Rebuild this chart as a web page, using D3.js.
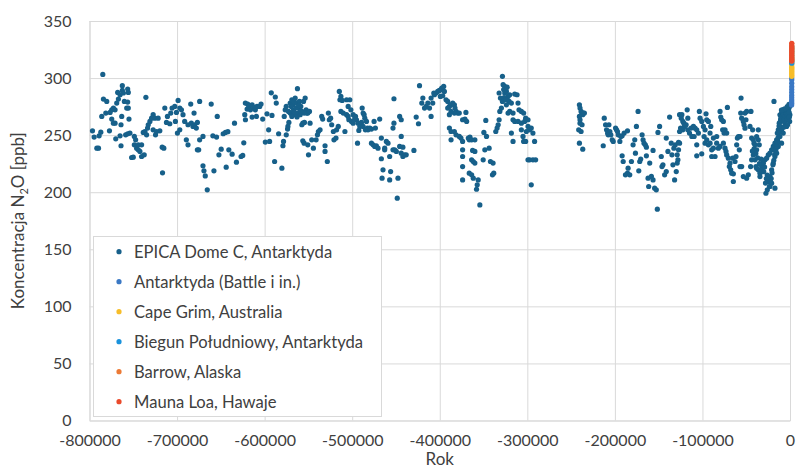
<!DOCTYPE html>
<html><head><meta charset="utf-8">
<script src="https://cdn.jsdelivr.net/npm/d3@7"></script>
<style>
html,body{margin:0;padding:0;background:#fff;}
svg{display:block;font-family:Lato,"Open Sans",sans-serif;}
</style></head>
<body><svg id="chart" width="797" height="470"></svg>
<script>
// ---- data ----
const xTicks = [-800000,-700000,-600000,-500000,-400000,-300000,-200000,-100000,0];
const yTicks = [0,50,100,150,200,250,300,350];
const seriesNames = ["EPICA Dome C, Antarktyda","Antarktyda (Battle i in.)","Cape Grim, Australia","Biegun Południowy, Antarktyda","Barrow, Alaska","Mauna Loa, Hawaje"];
const seriesColors = ["#17608a","#3a78c4","#f7bd2a","#1a92dc","#ec7a35","#ea4a2b"];

// EPICA Dome C: [year, N2O ppb]
const epica = [
[-784800,303.2],[-796600,253.8],[-794700,248.3],[-791600,238.6],[-789700,238.6],[-789000,249.4],[-787100,252.6],[-777200,253.8],[-784100,281.6],[-780300,279.5],[-786000,266.4],[-781400,269.3],[-776500,269.9],[-774600,272.2],[-772700,273.7],[-770800,272.2],[-768900,278.1],[-767000,281.6],[-767800,287.4],[-765100,285.4],[-762500,293.3],[-762500,289.2],[-761300,286.9],[-756400,290.4],[-755700,287.4],[-760200,279.5],[-756400,279],[-757500,273.7],[-755700,273.7],[-754900,264.1],[-763200,266.4],[-764000,259.1],[-770800,260.5],[-772700,260.5],[-774600,264.1],[-770000,246.8],[-765100,249.4],[-764000,240.7],[-758700,250.3],[-756400,251.2],[-753800,251.8],[-748800,248.9],[-747300,245.9],[-748800,241.5],[-746200,238.6],[-744300,237.1],[-742400,235.7],[-744300,241.5],[-740500,241.5],[-751900,230.4],[-750000,230.7],[-740500,231.3],[-737500,232.8],[-738600,252.4],[-735600,283.1],[-736700,253.2],[-734800,250.3],[-733700,256.2],[-732900,259.1],[-731000,262],[-729100,264.9],[-727300,267.9],[-725400,264.9],[-727300,254.7],[-724600,250.3],[-723500,253.2],[-721600,264.9],[-719700,253.8],[-717000,239.5],[-715100,238.6],[-716600,217],[-714000,273.7],[-711000,266.4],[-712100,261.1],[-708300,260],[-707200,269.3],[-705700,273.7],[-702600,275.2],[-700700,269.9],[-698800,280.4],[-696900,273.7],[-695000,272.2],[-693200,267.9],[-691300,262],[-696900,254.7],[-699600,251.8],[-701900,262],[-689400,245.9],[-687500,241.5],[-687500,259.1],[-683700,260.5],[-681800,257.6],[-684400,277.2],[-680600,269.3],[-679900,259.1],[-678000,256.2],[-674200,279.5],[-676800,261.1],[-674200,245.9],[-670400,248.9],[-676800,237.1],[-675300,237.1],[-670400,223.1],[-669300,218.7],[-667800,214.3],[-665500,202.1],[-661000,277.2],[-659100,249.4],[-657900,218.7],
[-654100,266.4],[-654900,248.3],[-652200,232.8],[-649600,237.7],[-647300,251.2],[-644700,252.4],[-642000,253],[-643900,221.9],[-640900,237.1],[-637100,233.3],[-634400,260.5],[-632200,226.3],[-626900,231.3],[-625000,232.2],[-623800,243.3],[-622000,278.1],[-619300,277.2],[-620000,272.8],[-618100,275.2],[-616200,272.2],[-614300,276.6],[-612500,274.3],[-610600,272.2],[-608700,275.2],[-605600,275.2],[-604100,277.2],[-614300,265.8],[-609400,266.4],[-622700,267.9],[-621900,263.5],[-602200,264.1],[-597300,268.7],[-591600,267.3],[-599200,243.9],[-594300,244.5],[-595400,254.7],[-592400,287.1],[-587800,283.4],[-586700,278.1],[-588600,226.9],[-580300,221.1],[-584000,251.2],[-579100,240.7],[-578400,244.5],[-575300,250.3],[-573800,255.3],[-573400,257.6],[-572300,261.1],[-577600,266.4],
[-576500,272.2],[-575300,275.2],[-570800,278.1],[-568900,281],[-567800,276.6],[-566300,279.5],[-565100,282.5],[-563200,278.1],[-562500,290.7],[-561300,273.7],[-560200,279.5],[-558700,275.2],[-557500,270.8],[-555600,279.5],[-553700,282.5],[-552600,272.2],[-551800,269.3],[-550700,269.3],[-548800,270.8],[-570800,269.3],[-572700,270.8],[-568900,267.9],[-565100,267.9],[-562500,269.3],[-559400,267.9],[-554900,269.3],[-548100,260.5],[-557500,259.1],[-556400,260.5],[-554500,261.1],[-568900,266.4],[-567000,272],[-564000,274],[-561000,276],[-559000,271],[-566000,270],[-563000,266],[-569500,275],
[-556400,245.1],[-554900,243],[-550700,241.5],[-549900,232.8],[-544300,238.6],[-546200,245.9],[-541200,245.9],[-539700,250.3],[-538600,253.2],[-536700,254.7],[-534800,266.4],[-533700,264.1],[-531000,240.7],[-531000,235.7],[-528400,226.9],[-527200,269.3],[-526100,263.5],[-524600,264.9],[-523400,259.1],[-521500,253.2],[-520800,245.9],[-518500,247.4],[-517800,254.7],[-515900,257.6],[-514700,288.3],
[-512900,283.9],[-514000,281],[-511400,280.4],[-512900,270.8],[-510200,269.3],[-506400,267.9],[-504600,266.4],[-503800,263.5],[-500800,262],[-498900,260.5],[-497000,264.9],[-495100,263.5],[-493200,260.5],[-491300,257.6],[-488600,273.7],[-487500,269.3],[-486400,267.9],[-485600,264.9],[-483700,262],[-482600,256.2],[-481900,254.7],[-479900,256.2],[-478000,255.3],[-475000,262],[-473500,256.2],[-468600,264.1],[-506400,281],[-504600,275.2],[-502700,281],[-501500,272.2],[-498900,267.9],[-496200,266.4],[-508300,253.2],[-493900,243],[-492400,254.1],[-489400,261.1],[-487500,257.6],[-484900,254.7],
[-478000,243],[-476100,241.5],[-474200,240.1],[-472400,240.7],[-470500,238.6],[-466700,247.4],[-466700,229.3],[-462900,238.6],[-461000,244.5],[-462900,237.1],[-459100,243],[-457200,231.3],[-453400,237.1],[-451500,237.1],[-449600,235.7],[-445800,240.1],[-444000,248.9],[-442100,239.5],[-444000,234.2],[-442100,231.3],[-440200,232.8],[-438300,232.8],[-429500,236.6],[-464800,219.6],[-456100,218.1],[-465900,212.3],[-457200,210.8],[-447700,212.3],[-448500,194.8],[-452300,281.9],[-452300,260.5],[-453400,256.2],[-445800,266.4],[-444000,263.5],[-426900,265.8],[-424300,260],
[-423100,293.3],[-420500,278.1],[-419300,282.5],[-417400,273.7],[-415500,275.2],[-413600,278.1],[-411700,273.7],[-409900,266.4],[-408000,278.1],[-409900,282.5],[-406800,286.9],[-406100,285.4],[-404200,286.9],[-402300,288.3],[-400400,289.2],[-398500,289.8],[-397700,291.2],[-395500,292.7],[-394700,288.3],[-399300,283.9],[-396600,284.5],[-392800,281],[-390900,279.5],[-389000,275.2],[-387100,276.6],[-385200,278.1],[-383300,276.6],[-382600,273.7],[-381400,270.8],[-383300,269.3],[-390900,273.7],[-389000,267.9],[-387100,270.8],[-379500,269.3],[-377700,269.3],[-373900,263.5],[-389000,256.2],[-387100,253.2],[-383300,253.2],[-387100,245.9],[-381400,250.3],[-377700,248.9],[-375800,247.4],[-373900,244.5],[-373900,237.1],[-373900,231.3],[-373900,222.5],[-373900,210.8],
[-370100,269.9],[-371200,264.1],[-369300,262],[-367400,247.4],[-365500,248.3],[-366300,245.9],[-363600,245.9],[-359900,245.9],[-362500,236.6],[-359900,235.7],[-363600,228.4],[-361700,226.9],[-359900,225.5],[-366300,216.7],[-363600,215.2],[-361700,212.3],[-356100,210.8],[-357200,206.5],[-358000,202.6],[-354200,188.9],[-350400,228.4],[-348500,237.1],[-346600,248.9],[-349600,252.4],[-347400,262.9],[-343600,238.6],[-342100,226.9],[-339100,225.5],[-339800,215.2],[-338300,216.7],[-336000,253.2],[-334500,256.2],[-333300,259.1],[-332200,263.5],[-331400,270.8],[-329600,273.7],[-332200,286.9],[-330700,282.5],[-328400,279.5],[-327600,294.2],[-325800,292.7],[-328400,301.5],[-325800,286.9],[-323900,288.3],[-322000,283.9],[-320100,285.4],[-320800,279.5],[-323900,276.6],[-318200,278.1],[-322000,269.3],[-320100,270.8],[-316300,269.3],[-314400,286],[-311700,285.4],[-310600,278.1],[-309500,272.2],[-306800,270.8],[-316300,263.5],[-314400,262],[-310600,262],[-306800,260.5],[-304200,269.3],[-303000,262],[-301900,264.9],[-299200,263.5],[-306800,254.7],[-304900,248.9],[-301900,244.5],[-301100,253.2],[-299200,257.6],[-297400,254.7],[-295500,256.2],[-293600,251.8],[-291700,244.5],[-304200,244.5],[-318200,251.8],[-316300,244.5],[-299200,228.4],[-297400,228.4],[-293600,228.4],[-290500,228.4],[-295500,206.5],[-327000,290],[-326500,283],[-324500,281],[-323000,292],
[-240500,276.6],[-239800,273.7],[-238600,270.8],[-237500,269.3],[-236700,267.9],[-236000,269.3],[-234800,269.3],[-240500,266.4],[-239800,260.5],[-241300,254.7],[-238600,253.2],[-240500,243],[-236700,237.7],[-239800,263.5],[-237500,259.1],
[-213300,240.7],[-212100,264.9],[-210600,259.1],[-209500,254.7],[-208300,251.8],[-206800,259.1],[-205700,253.2],[-207600,250.3],[-204600,250.3],[-201900,244.5],[-203000,245.9],[-199200,256.2],[-198100,254.7],[-197000,253.2],[-196200,250.3],[-194300,244.5],[-193200,248.9],[-191700,249.4],[-189400,251.8],[-185600,253.8],[-179200,241.5],[-177300,245.9],[-175400,257.6],[-173500,270.8],[-168900,250.3],[-167800,245.9],[-166700,243],[-165200,241.5],[-164000,239.5],[-191700,231.9],[-190500,226.9],[-187900,215.2],[-185600,216.7],[-184900,221.1],[-183000,215.2],[-181100,226.9],[-176500,234.2],[-172700,218.7],[-171600,226.9],[-170500,229],[-164000,231.9],[-160200,225.5],[-156400,236.6],[-162100,212.3],[-161400,205],[-158300,213.8],[-156400,210.8],[-154600,203.5],[-152700,202.1],[-151500,185.1],[-150800,252.4],[-148900,257.6],[-141300,247.4],[-147000,231.3],[-145100,224],[-146200,222.5],[-143200,215.2],[-141300,218.1],[-139400,235.7],[-137500,265.8],[-135600,243],[-134800,232.8],[-133700,224],[-132600,238.6],[-131800,210.8],[-131000,241.5],[-129900,218.1],[-128800,232.8],[-128000,228.4],[-127300,243.6],[-126100,243],[-126100,267.9],[-124200,264.9],[-123500,267.9],[-122400,262],[-122400,254.7],[-121200,260.5],[-120500,257.6],[-118600,259.1],[-117400,272.2],[-116700,264.9],[-116700,254.7],[-114800,251.8],[-112900,256.2],[-112100,248.9],[-126100,253.2],[-125000,256.2],[-127300,237.1],[-128800,225.5],
[-110300,257.6],[-108400,256.1],[-106500,254.7],[-109500,248.8],[-104600,251.8],[-103500,270.8],[-102700,264.9],[-100800,262],[-98900,257.6],[-97000,254.7],[-95100,263.5],[-93200,262],[-98100,248.8],[-97000,243],[-106500,231.9],[-100800,233.6],[-95100,245.9],[-93200,241.5],[-91300,243],[-89400,237.1],[-87500,238.6],[-85600,231.3],[-89400,231.3],[-83700,243],[-81800,238.6],[-79900,270.8],[-79100,265.8],[-78000,263.5],[-76100,262],[-76900,254.7],[-75300,251.8],[-74200,254.7],[-72300,251.8],[-71500,274.3],[-76100,243],[-74200,238.6],[-73100,235.7],[-72300,232.7],[-70400,229.8],[-68500,225.4],[-69300,222.5],[-67700,219.6],[-66600,216.7],[-64700,216.1],[-64700,209.4],[-65500,229.8],[-62800,226.9],[-61700,231.3],[-60900,241.5],[-60100,247.4],[-59000,248.8],[-57100,248.8],[-57900,237.1],[-57100,222.5],[-55200,222.5],[-56300,269.3],[-55200,264.9],[-53300,262],[-52500,259.1],[-51400,256.1],[-50300,263.5],[-51400,269.3],[-49500,270.8],[-45700,257.6],[-44600,270.8],[-42700,254.7],[-43800,247.4],[-41900,245.9],[-41100,243],[-40000,241.5],[-38100,248.8],[-36200,254.7],[-36200,245.9],[-35100,241.5],[-38100,237.1],[-41900,232.7],[-43800,228.4],[-45000,222.5],[-40000,228.4],[-38900,222.5],[-36200,219.6],[-34300,216.7],[-32400,222.5],[-30500,225.4],[-28600,228.4],[-26700,229.8],[-24800,232.7],[-22900,234.2],[-21000,237.1],[-19100,240.1],[-17200,243],[-15300,245.9],[-14500,251.8],[-13400,254.7],[-11500,257.6],[-12300,260.5],[-10700,263.5],[-11500,267.8],[-9600,269.3],[-8500,270.8],[-7700,272.2],[-5800,269.3],[-3900,266.4],[-2000,263.5],[-100,267.8],[-5800,260.5],[-3900,257.6],[-9600,254.7],[-7700,251.8],[-11500,248.8],[-9600,243],[-13400,240.1],[-15300,234.2],[-17200,231.3],[-19100,225.4],[-21000,219.6],[-22900,213.7],[-24800,209.4],[-27500,199.1],[-25900,202.1],[-22900,205],[-21000,207.9],[-17200,203.5],[-32400,219.6],[-34300,213.7],[-38100,221.1],[-47600,215.2],[-49500,212.3],[-53300,213.7],[-55900,282.5],[-18300,279.5],[-79900,240.1],[-87500,247.4],[-91300,251.8],[-83700,248.8],[-90500,257.6],[-95900,268.7],[-106500,241.5],
[-11000,262],[-10500,265],[-10000,268],[-9500,266],[-9000,263],[-8500,267],[-8000,270],[-7500,268],[-7000,265],[-6500,262],[-6000,264],[-5500,267],[-5000,270],[-4500,272],[-4000,269],[-3500,266],[-3000,264],[-2500,268],[-2000,271],[-1500,273],[-1000,270],[-700,266],[-400,262],[-12500,258],[-13000,252],[-13500,248],[-14000,245],[-14500,244],[-15000,240],[-15800,238],[-16500,236],[-17500,233],[-18500,228],[-19500,224],[-20500,217],[-21500,212],[-22500,209],[-23500,205],[-24500,210],[-26000,215],[-27000,212],[-28000,208],[-29000,222],[-30000,218],[-31000,226],[-33000,229],[-35000,225],[-37000,230],[-39000,234],[-41000,238],[-43000,236],[-8800,272],[-6200,273],[-3200,275],[-1200,277],[-300,275],[-4800,258],[-2800,259],[-7200,257],[-9800,272]
];

// Modern records: [year, N2O ppb]
const battle = [[1900,276.5],[1910,278],[1920,279.5],[1930,281],[1940,283],[1950,285],[1958,287.5],[1965,290],[1970,292.5],[1975,295.5],[1980,298.5],[1985,300]];
const capeGrim = [[1978,301.5],[1980,302.5],[1982,303.5],[1984,304.5],[1986,305.5],[1988,306.5],[1990,307.5],[1992,308.5],[1994,309.5],[1996,310.5],[1998,312],[2000,313.5],[2002,315],[2004,317],[2006,319],[2008,321],[2010,323],[2012,325],[2014,327]];
const southPole = [[1998,313],[2000,314],[2002,315.5],[2004,317.5],[2006,319.5],[2008,321.5],[2010,323.5],[2012,325.5],[2014,327.5]];
const barrow = [[1999,315],[2001,316.5],[2003,318],[2005,320],[2007,322],[2009,324],[2011,326],[2013,328],[2015,330]];
const maunaLoa = [[1999,315],[2001,316.5],[2003,318],[2005,320],[2007,322],[2009,324],[2011,326],[2013,328],[2015,330.5]];

// ---- drawing ----
const svg = d3.select("#chart");
const L = 89.5, R = 790, T = 21, B = 420.5;
const x = d3.scaleLinear().domain([-800000, 0]).range([L, R]);
const y = d3.scaleLinear().domain([0, 350]).range([B, T]);
const grid = "#d9d9d9", txt = "#404040";
const fmt = d => String(d); // plain hyphen-minus, as in the reference

// gridlines + y labels
const yAxis = d3.axisLeft(y).tickValues(yTicks).tickSize(-(R - L)).tickPadding(18).tickFormat(fmt);
const gy = svg.append("g").attr("transform", `translate(${L},0)`).call(yAxis);
gy.select(".domain").remove();
gy.selectAll("line").attr("stroke", grid);
gy.selectAll("text").attr("fill", txt).style("font-size", "16px").style("font-family", "Lato");

const xAxis = d3.axisBottom(x).tickValues(xTicks).tickSize(-(B - T)).tickPadding(14).tickFormat(fmt);
const gx = svg.append("g").attr("transform", `translate(0,${B})`).call(xAxis);
gx.select(".domain").attr("stroke", grid);
gx.selectAll("line").attr("stroke", grid);
gx.selectAll("text").attr("fill", txt).style("font-size", "16px").style("font-family", "Lato");

// axis titles
svg.append("text").attr("x", (L + R) / 2).attr("y", 465).attr("text-anchor", "middle")
  .attr("fill", txt).style("font-size", "17px").text("Rok");
const yt = svg.append("text").attr("transform", `translate(24,${(T + B) / 2}) rotate(-90)`)
  .attr("text-anchor", "middle").attr("fill", txt).style("font-size", "17px");
yt.append("tspan").text("Koncentracja N");
yt.append("tspan").attr("dy", 4).style("font-size", "11px").text("2");
yt.append("tspan").attr("dy", -4).text("O [ppb]");

// points
const allSeries = [epica, battle, capeGrim, southPole, barrow, maunaLoa];
allSeries.forEach((s, i) => {
  svg.append("g").selectAll("circle").data(s).join("circle")
    .attr("cx", d => x(d[0])).attr("cy", d => y(d[1])).attr("r", 2.6)
    .attr("fill", seriesColors[i]);
});

// legend
const lg = svg.append("g");
lg.append("rect").attr("x", 93.5).attr("y", 236.5).attr("width", 288).attr("height", 180)
  .attr("fill", "#fff").attr("stroke", grid);
seriesNames.forEach((n, i) => {
  const cy = 251.7 + i * 30;
  lg.append("circle").attr("cx", 119).attr("cy", cy).attr("r", 2.6).attr("fill", seriesColors[i]);
  lg.append("text").attr("x", 134).attr("y", cy + 6).attr("fill", txt).style("font-size", "16.6px").text(n);
});
</script>
</body></html>
